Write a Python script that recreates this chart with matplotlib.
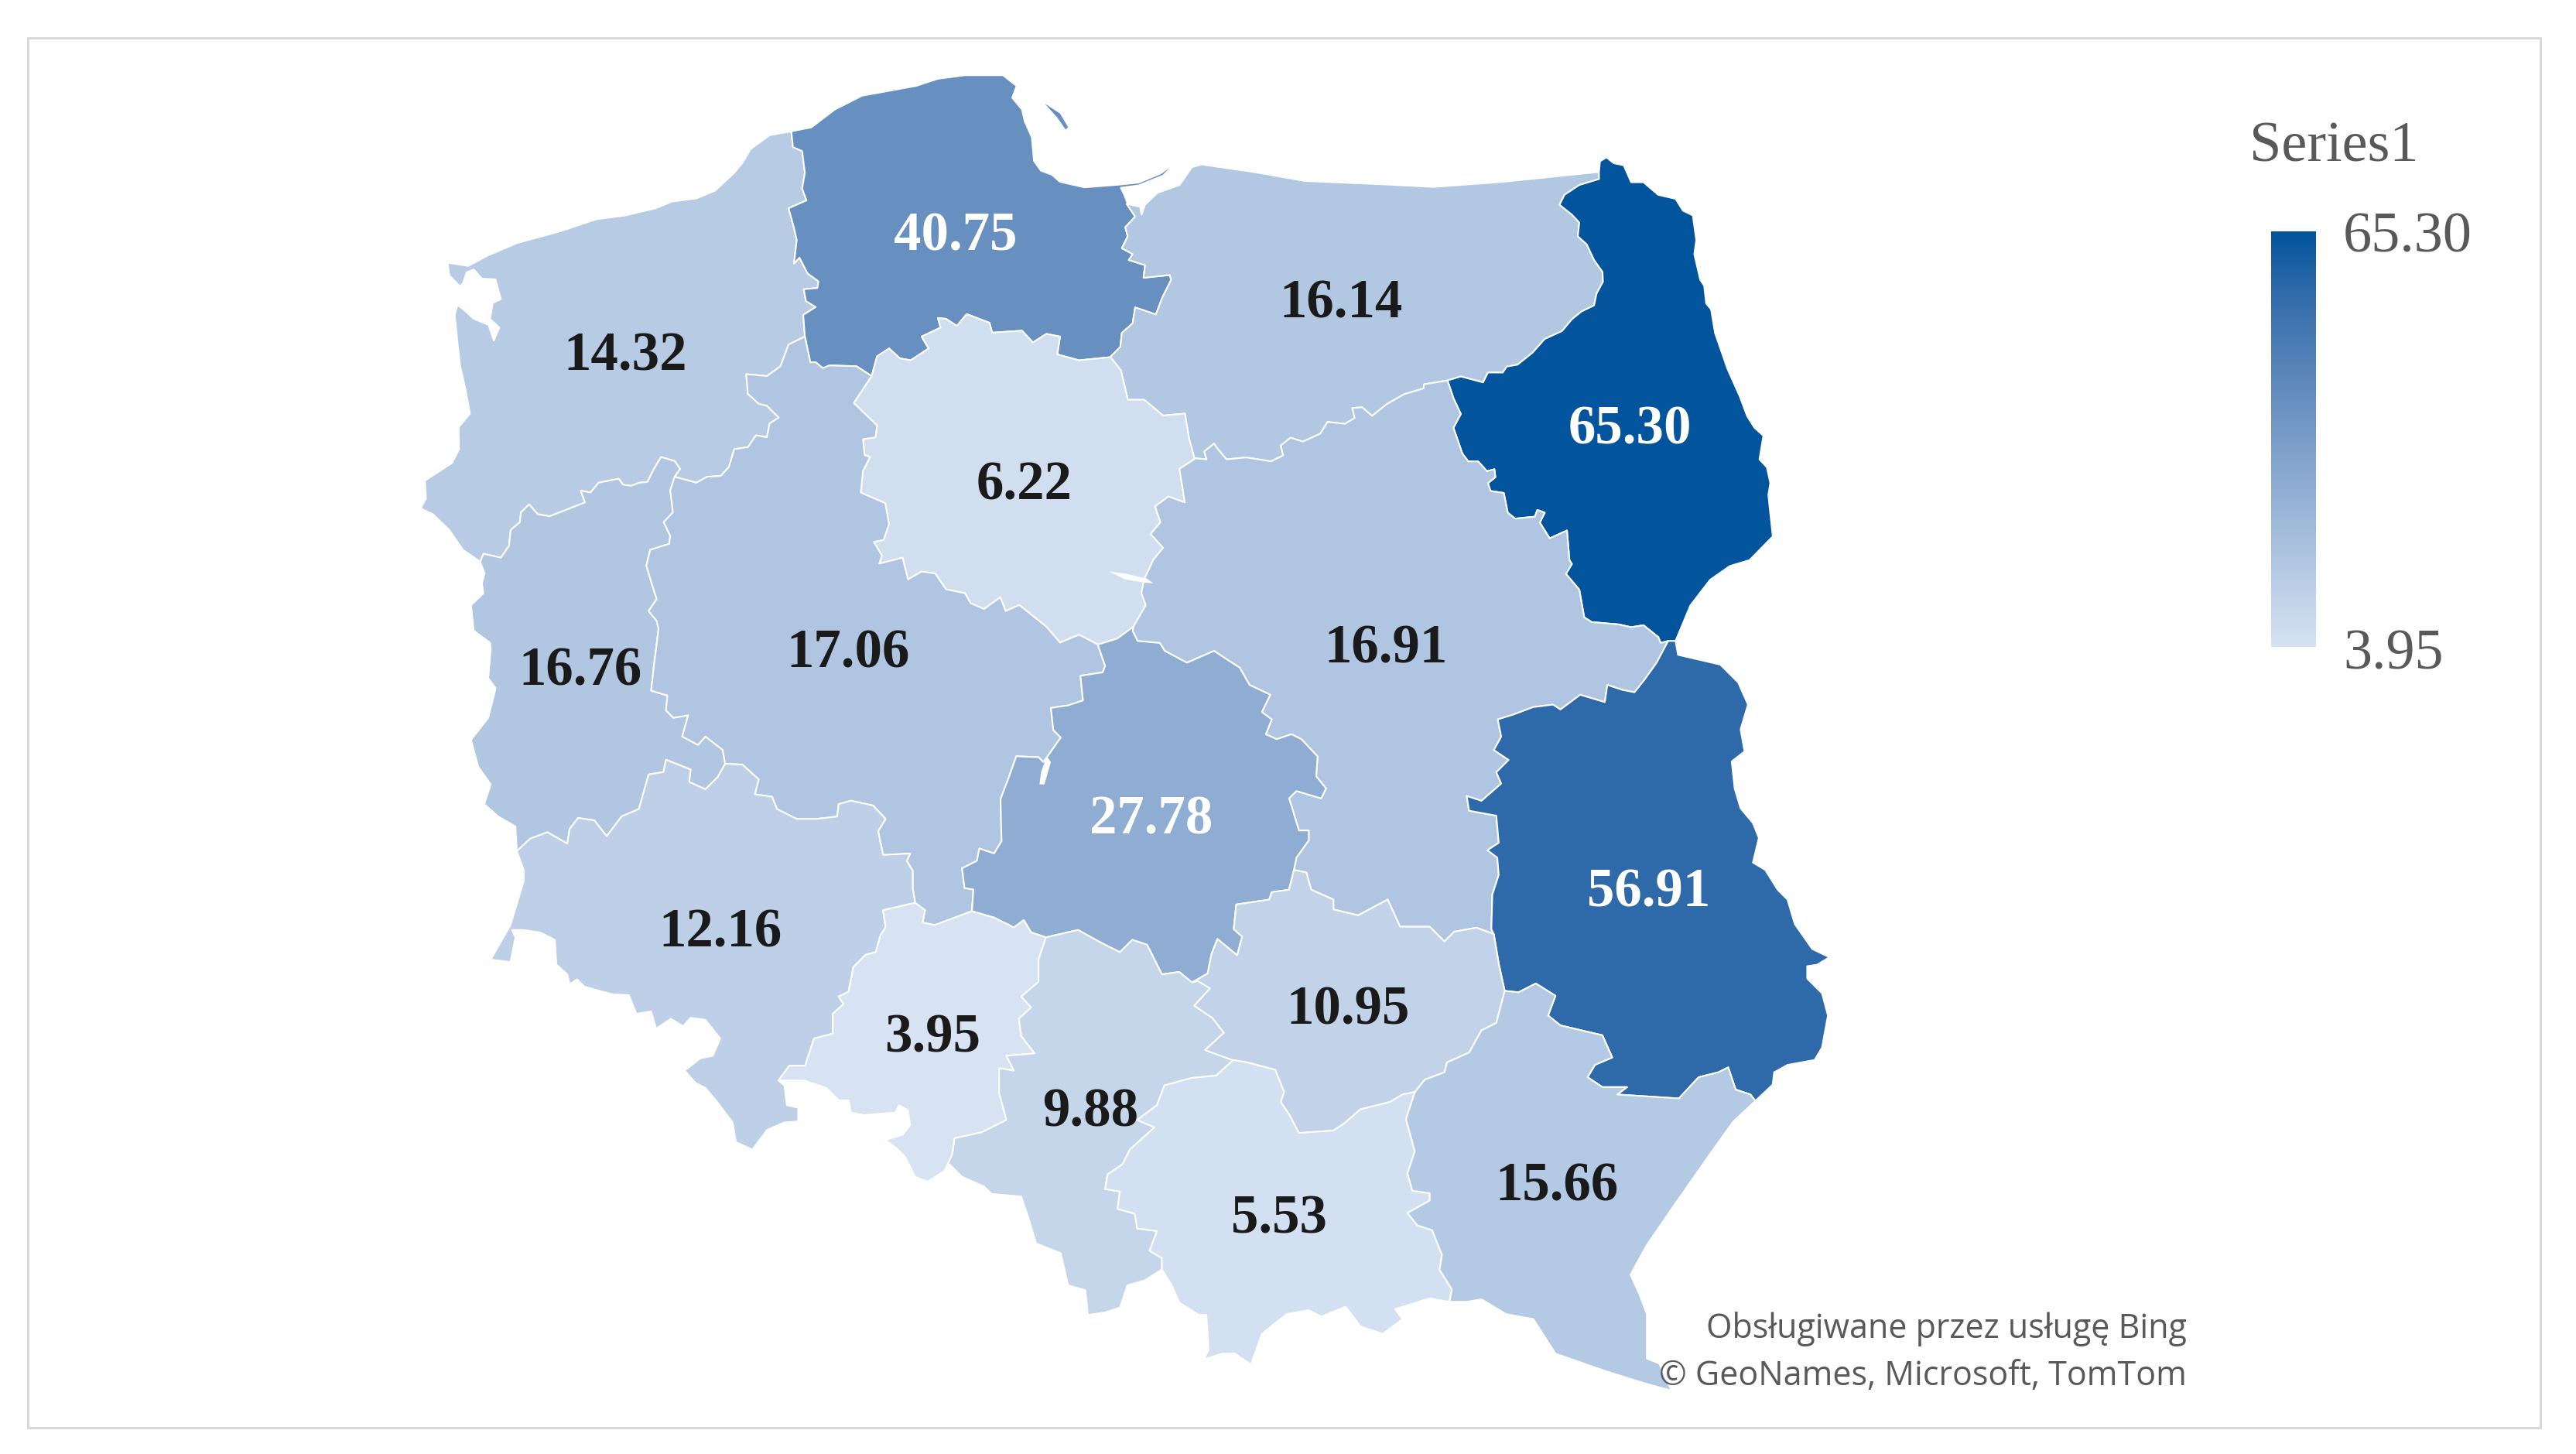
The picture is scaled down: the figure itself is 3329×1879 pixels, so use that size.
import numpy as np
import matplotlib
matplotlib.use("Agg")
import matplotlib.pyplot as plt
from matplotlib.colors import LinearSegmentedColormap, Normalize
from matplotlib.patches import Polygon, Rectangle

W, H = 3329, 1879

regions = ["ZP", "PM", "WM", "PD", "KP", "LB", "WP", "MZ", "LD", "LU", "DS", "OP", "SL", "SK", "MA", "PK"]
values = [14.32, 40.75, 16.14, 65.30, 6.22, 16.76, 17.06, 16.91, 27.78, 56.91, 12.16, 3.95, 9.88, 10.95, 5.53, 15.66]
label_x = [808, 1235, 1733, 2106, 1324, 750, 1096, 1791, 1488, 2131, 931, 1205, 1409, 1742, 1653, 2012]
label_y = [478, 323, 410, 573, 645, 885, 862, 856, 1078, 1172, 1223, 1359, 1456, 1323, 1594, 1552]
legend_title = "Series1"
legend_max = "65.30"
legend_min = "3.95"
credit = ["Obsługiwane przez usługę Bing", "© GeoNames, Microsoft, TomTom"]

color_stops = [(0.0, "#D7E3F3"), (0.6, "#678FC0"), (0.863, "#2E69A9"), (1.0, "#02549D")]


def crop(x0, y0, kx, ky):
    def conv(pts):
        return [(x0 + a / kx, y0 + b / ky) for a, b in pts]
    return conv


z1 = crop(500, 60, 1.4255, 1.96)
z2 = crop(1400, 160, 1.568, 1.96)
z3 = crop(580, 800, 1.568, 1.568)
z4 = crop(1500, 850, 1.568, 1.568)

borders = {
    "coast_zp": z1([(745, 215), (705, 225), (670, 260), (655, 295), (640, 320), (605, 365), (570, 385), (525, 393), (495, 410), (440, 428), (385, 438), (320, 468), (240, 498), (185, 530), (150, 556), (112, 548), (115, 580), (135, 608), (140, 600), (147, 572), (160, 565), (175, 588), (200, 590), (210, 640), (195, 650), (190, 690), (207, 712), (197, 745), (187, 705), (160, 690), (140, 665), (130, 655), (125, 680), (130, 750), (135, 810), (145, 870), (153, 930), (132, 965), (133, 1020), (120, 1055), (70, 1100), (72, 1145), (62, 1170), (85, 1185), (115, 1225), (140, 1275), (172, 1305)]),
    "zp_lb": z1([(172, 1305), (178, 1285), (210, 1295), (225, 1265), (228, 1225), (245, 1205), (247, 1180), (262, 1160), (278, 1185), (300, 1190), (365, 1155), (357, 1125), (375, 1130), (390, 1105), (427, 1095), (435, 1110), (450, 1113), (465, 1105), (480, 1103), (490, 1075), (505, 1040), (530, 1050), (540, 1070), (530, 1090)]),
    "zp_wp": z1([(530, 1090), (570, 1105), (590, 1090), (615, 1088), (630, 1065), (640, 1020), (665, 1015), (680, 985), (700, 990), (705, 955), (722, 940), (700, 910), (685, 905), (665, 880), (662, 830), (700, 835), (725, 810), (740, 755), (770, 735)]),
    "zp_pm": z1([(745, 215), (748, 255), (765, 265), (770, 320), (765, 360), (773, 390), (740, 410), (750, 460), (755, 490), (750, 550), (760, 535), (775, 575), (795, 595), (793, 612), (768, 615), (772, 645), (790, 660), (767, 680), (770, 735)]),
    "coast_pm": z1([(745, 215), (782, 205), (825, 160), (875, 125), (975, 100), (1015, 82), (1065, 73), (1135, 73), (1160, 100), (1152, 130), (1170, 160), (1175, 190), (1188, 230), (1192, 290), (1205, 315), (1225, 325), (1240, 343), (1285, 357), (1350, 350), (1385, 345), (1425, 322), (1455, 293), (1430, 327), (1385, 352), (1352, 358), (1358, 375), (1365, 400)]),
    "pm_wm": z2([(88, 203), (105, 235), (85, 262), (90, 285), (78, 315), (100, 330), (92, 345), (125, 358), (122, 390), (175, 383), (178, 395), (160, 440), (147, 483), (105, 465), (100, 505), (78, 530), (75, 565), (55, 590)]),
    "pm_kp": z1([(1333, 787), (1275, 795), (1235, 780), (1240, 735), (1215, 728), (1190, 750), (1170, 720), (1115, 725), (1110, 700), (1068, 678), (1050, 708), (1030, 690), (1015, 688), (1020, 712), (985, 735), (998, 765), (965, 795), (945, 790), (925, 765), (903, 785), (893, 835)]),
    "pm_wp": z1([(893, 835), (865, 810), (815, 808), (803, 815), (790, 800), (780, 800), (770, 735)]),
    "kp_wp": z1([(893, 835), (860, 903), (903, 960), (900, 990), (877, 995), (880, 1035), (890, 1040), (877, 1075), (873, 1130), (918, 1157), (925, 1210), (915, 1250), (897, 1255), (912, 1290), (907, 1310), (950, 1295), (960, 1350), (985, 1330), (1010, 1335), (1030, 1375), (1065, 1385), (1075, 1410), (1100, 1425), (1130, 1395), (1140, 1430), (1165, 1415), (1215, 1470), (1240, 1510), (1275, 1490), (1310, 1515)]),
    "kp_ld": z1([(1310, 1515), (1345, 1500), (1375, 1470)]),
    "kp_wm": z1([(1333, 787), (1352, 820), (1365, 895), (1395, 895), (1430, 935), (1470, 930), (1478, 995), (1488, 1045)]),
    "kp_mz": z1([(1488, 1045), (1460, 1070), (1470, 1155), (1440, 1140), (1415, 1165), (1425, 1205), (1407, 1235), (1430, 1270), (1412, 1300), (1395, 1350), (1390, 1385), (1398, 1415), (1375, 1470)]),
    "coast_wm": z2([(88, 203), (115, 210), (118, 230), (125, 205), (150, 175), (195, 155), (220, 110), (240, 103), (345, 122), (450, 145), (600, 153), (710, 160), (850, 147), (1045, 122)]),
    "wm_pd": z2([(1045, 122), (1045, 140), (1005, 155), (975, 180), (965, 205), (990, 230), (1005, 250), (1002, 285), (1020, 305), (1035, 345), (1052, 375), (1053, 400), (1040, 430), (1035, 460), (1010, 475), (990, 495), (970, 525), (935, 545), (910, 580), (880, 610), (858, 615), (850, 630), (820, 630), (810, 655), (765, 640), (738, 650)]),
    "wm_mz": z2([(738, 650), (690, 660), (690, 670), (650, 685), (615, 710), (585, 740), (565, 718), (545, 720), (550, 745), (530, 760), (495, 755), (480, 785), (445, 805), (420, 795), (400, 815), (405, 840), (380, 855), (330, 845), (290, 850), (270, 820), (265, 810), (245, 830), (250, 850), (226, 847)]),
    "pd_out": z2([(1045, 122), (1047, 95), (1060, 85), (1075, 100), (1095, 105), (1110, 148), (1135, 148), (1165, 180), (1200, 190), (1215, 220), (1235, 232), (1242, 295), (1238, 330), (1250, 395), (1258, 410), (1262, 455), (1272, 470), (1280, 530), (1305, 620), (1330, 690), (1345, 740), (1360, 770), (1378, 790), (1370, 850), (1385, 870), (1392, 910), (1388, 940), (1397, 1045), (1350, 1105), (1310, 1120), (1270, 1155), (1230, 1220), (1200, 1310)]),
    "pd_lu": z2([(1200, 1310), (1185, 1310)]),
    "pd_mz": z2([(738, 650), (750, 695), (765, 735), (750, 770), (768, 835), (780, 855), (800, 855), (818, 880), (833, 875), (835, 895), (820, 910), (825, 930), (852, 935), (860, 985), (875, 1000), (915, 995), (920, 978), (935, 985), (925, 1010), (945, 1050), (980, 1030), (985, 1105), (990, 1115), (978, 1140), (1005, 1180), (1015, 1250), (1030, 1262), (1085, 1268), (1110, 1275), (1135, 1270), (1165, 1300), (1170, 1315), (1185, 1310)]),
    "lu_mz": z2([(1185, 1310)]) + z4([(1005, 10), (980, 45), (960, 70), (935, 65), (905, 55), (900, 90), (850, 75), (810, 105), (795, 95), (755, 100), (715, 115), (683, 125), (690, 160), (675, 187), (705, 207), (680, 232), (690, 255), (650, 290), (620, 280), (625, 310), (680, 320), (685, 375), (662, 390), (682, 405), (685, 440), (672, 480), (670, 550), (675, 560)]),
    "lu_sk": z4([(675, 560), (685, 620), (697, 675)]),
    "lu_pk": z4([(697, 675), (725, 678), (760, 660), (800, 685), (785, 725), (810, 745), (895, 765), (915, 810), (880, 825), (865, 850), (895, 870), (945, 870), (925, 885), (1050, 893), (1090, 850), (1130, 840), (1150, 830), (1165, 875), (1195, 885), (1205, 898)]),
    "lu_out": z2([(1200, 1310), (1205, 1345)]) + z4([(1134, 14), (1170, 50), (1190, 95), (1175, 145), (1183, 190), (1157, 210), (1163, 265), (1175, 305), (1200, 335), (1212, 365), (1200, 415), (1225, 430), (1250, 470), (1270, 490), (1285, 540), (1320, 590), (1355, 607), (1330, 622), (1310, 625), (1310, 650), (1340, 680), (1352, 725), (1340, 790), (1325, 815), (1270, 825), (1243, 840), (1240, 865), (1205, 898)]),
    "pk_out": z4([(1205, 898), (1160, 940), (1110, 1010), (1040, 1110), (985, 1190), (952, 1250), (970, 1290), (985, 1330), (985, 1380), (985, 1420), (1010, 1430), (1035, 1485), (980, 1470), (900, 1445), (800, 1410), (755, 1340), (700, 1330), (650, 1300), (620, 1305), (585, 1305)]),
    "pk_sk": z4([(697, 675), (680, 740), (650, 755), (625, 800), (580, 820), (575, 840), (535, 855), (515, 880)]),
    "pk_ma": z4([(515, 880), (497, 935), (515, 1000), (500, 1045), (510, 1080), (545, 1085), (545, 1100), (500, 1125), (520, 1150), (550, 1160), (570, 1210), (565, 1240), (590, 1280), (585, 1305)]),
    "sk_ma": z4([(515, 880), (490, 885), (465, 900), (405, 915), (370, 945), (350, 958), (280, 963), (260, 925), (243, 900), (250, 880), (232, 835), (175, 820), (145, 815)]),
    "sk_sl": z4([(145, 815), (90, 795), (128, 760), (105, 730), (68, 705), (100, 670), (75, 655), (65, 657)]),
    "sk_ld": z4([(65, 657), (95, 640), (103, 600), (115, 570), (155, 603), (165, 565), (148, 550), (153, 500), (220, 490), (225, 475), (260, 470), (270, 430)]),
    "sk_mz": z4([(270, 430), (295, 435), (305, 470), (350, 490), (350, 510), (400, 522), (460, 490), (485, 545), (545, 545), (575, 575), (595, 555), (640, 547), (675, 560)]),
    "ld_mz": z4([(270, 430), (275, 405), (300, 370), (300, 350), (280, 350), (265, 300), (260, 285), (275, 270), (325, 285), (335, 265), (315, 240), (318, 200), (285, 165), (265, 155), (235, 165), (213, 155), (225, 125), (205, 110), (222, 75), (180, 55), (160, 20)]) + z2([(295, 1360), (265, 1335), (210, 1365), (195, 1355), (165, 1335), (155, 1315), (110, 1310), (100, 1285)]),
    "ld_wp": z3([(1315, 52), (1330, 95), (1325, 108), (1280, 115), (1285, 165), (1255, 175), (1220, 180), (1225, 225), (1240, 240), (1205, 290), (1195, 280), (1150, 278), (1135, 320), (1118, 365), (1120, 450), (1105, 475), (1075, 465), (1070, 490), (1040, 505), (1045, 545), (1063, 548), (1060, 592)]),
    "op_ld": z3([(1060, 592), (1105, 605), (1145, 625), (1165, 610), (1180, 635), (1210, 645)]),
    "ld_sl": z3([(1210, 645), (1275, 630), (1320, 655), (1360, 675), (1385, 650), (1415, 660), (1445, 720), (1480, 715), (1507, 737)]),
    "wp_op": z3([(1060, 592), (1025, 605), (985, 620), (960, 615), (965, 590), (945, 575)]),
    "wp_ds": z3([(945, 575), (940, 545), (940, 510), (928, 490), (935, 475), (880, 478), (870, 430), (885, 405), (860, 378), (815, 368), (790, 375), (787, 400), (745, 405), (705, 405), (665, 385), (655, 360), (620, 355), (628, 325), (595, 295), (560, 293)]),
    "wp_lb": z3([(560, 293), (555, 265), (520, 238), (505, 255), (473, 238), (485, 195), (455, 200), (440, 185), (443, 155), (410, 145), (415, 100), (425, 20)]) + z1([(497, 1455), (482, 1430), (497, 1400), (490, 1370), (478, 1315), (485, 1275), (520, 1260), (522, 1240), (510, 1205), (527, 1180), (522, 1125), (530, 1090)]),
    "lb_out": z1([(172, 1305), (180, 1335), (175, 1360), (178, 1385), (155, 1415), (160, 1480), (190, 1510)]) + z3([(85, 60), (80, 120), (95, 140), (80, 200), (45, 245), (60, 300), (85, 335), (72, 375), (100, 400), (135, 420), (138, 470)]),
    "lb_ds": z3([(138, 470), (165, 445), (200, 432), (240, 455), (245, 425), (262, 403), (295, 408), (320, 440), (350, 400), (385, 385), (405, 315), (435, 310), (440, 285), (490, 305), (487, 330), (520, 345), (545, 320), (560, 293)]),
    "ds_out": z3([(138, 470), (152, 510), (152, 530), (140, 570), (125, 620), (85, 690), (125, 695), (135, 645), (128, 630), (150, 630), (185, 635), (215, 650), (218, 700), (240, 720), (245, 740), (260, 730), (275, 745), (330, 760), (365, 762), (380, 800), (410, 795), (420, 830), (450, 810), (475, 825), (490, 808), (520, 812), (550, 850), (535, 885), (510, 890), (478, 915), (500, 940), (520, 950), (545, 980), (575, 1020), (582, 1060), (615, 1075), (645, 1035), (680, 1020), (708, 1018), (708, 990), (685, 985), (680, 945), (668, 935)]),
    "ds_op": z3([(668, 935), (690, 905), (722, 905), (740, 850), (778, 840), (778, 800), (800, 780), (790, 765), (810, 755), (820, 705), (845, 680), (865, 675), (875, 640), (885, 625), (880, 590), (945, 575)]),
    "op_out": z3([(668, 935), (720, 935), (765, 950), (790, 975), (810, 975), (815, 1000), (840, 1005), (905, 1000), (912, 985), (930, 995), (935, 1025), (920, 1045), (885, 1055), (910, 1075), (925, 1090), (945, 1130), (970, 1140), (1005, 1118)]),
    "op_sl": z3([(1210, 645), (1195, 690), (1195, 735), (1160, 765), (1180, 787), (1155, 810), (1160, 845), (1187, 880), (1130, 885), (1145, 915), (1115, 910), (1115, 960), (1130, 1015), (1080, 1040), (1025, 1052), (1020, 1085), (1005, 1118)]),
    "sl_ma": z3([(1588, 895), (1555, 925), (1505, 930), (1450, 945), (1435, 985), (1395, 1015), (1430, 1030), (1380, 1075), (1365, 1105), (1335, 1125), (1330, 1155), (1360, 1160), (1355, 1195), (1390, 1205), (1395, 1235), (1435, 1240), (1420, 1280), (1445, 1295), (1445, 1318)]),
    "sl_out": z3([(1005, 1118), (1015, 1105), (1040, 1130), (1085, 1150), (1100, 1165), (1160, 1170), (1175, 1215), (1190, 1265), (1240, 1285), (1255, 1350), (1290, 1360), (1295, 1410), (1330, 1405), (1360, 1395), (1375, 1350), (1410, 1340), (1445, 1318)]),
    "ma_out": z3([(1445, 1318), (1465, 1350), (1480, 1385), (1520, 1410), (1535, 1410), (1540, 1480), (1530, 1500)]) + z4([(125, 1410), (150, 1410), (183, 1432), (205, 1370), (255, 1330), (300, 1322), (325, 1335), (375, 1315), (405, 1355), (450, 1370), (490, 1340), (475, 1320), (545, 1298), (585, 1305)]),
}

# walk order of the borders round each region, "-" means walk it backwards
outlines = {
    "ZP": ["coast_zp", "zp_lb", "zp_wp", "-zp_pm"],
    "PM": ["coast_pm", "pm_wm", "pm_kp", "pm_wp", "-zp_pm"],
    "WM": ["coast_wm", "wm_pd", "wm_mz", "-kp_wm", "-pm_wm"],
    "PD": ["pd_out", "pd_lu", "-pd_mz", "-wm_pd"],
    "KP": ["kp_wm", "kp_mz", "-kp_ld", "-kp_wp", "-pm_kp"],
    "LB": ["zp_lb", "-wp_lb", "-lb_ds", "-lb_out"],
    "WP": ["zp_wp", "-pm_wp", "kp_wp", "ld_wp", "wp_op", "wp_ds", "wp_lb"],
    "MZ": ["wm_mz", "kp_mz", "-ld_mz", "sk_mz", "-lu_mz", "-pd_mz"],
    "LD": ["kp_ld", "-ld_mz", "-sk_ld", "-ld_sl", "-op_ld", "-ld_wp"],
    "LU": ["lu_out", "-lu_pk", "-lu_sk", "-lu_mz", "-pd_lu"],
    "DS": ["lb_ds", "-wp_ds", "-ds_op", "-ds_out"],
    "OP": ["ds_op", "-wp_op", "op_ld", "op_sl", "-op_out"],
    "SL": ["ld_sl", "-sk_sl", "sl_ma", "-sl_out", "-op_sl"],
    "SK": ["sk_mz", "lu_sk", "pk_sk", "sk_ma", "sk_sl", "sk_ld"],
    "MA": ["-sk_ma", "pk_ma", "-ma_out", "-sl_ma"],
    "PK": ["lu_pk", "pk_out", "-pk_ma", "-pk_sk"],
}

hel_peninsula = z1([(1212, 145), (1240, 170), (1255, 205), (1250, 210), (1235, 180)])
lake_kp = z1([(1330, 1330), (1360, 1335), (1400, 1348), (1412, 1360), (1395, 1358), (1360, 1350)])
lake_ld = z3([(1212, 278), (1220, 290), (1207, 335), (1197, 335), (1200, 310)])


def walk(names):
    pts = []
    for name in names:
        if name.startswith("-"):
            pts += borders[name[1:]][::-1]
        else:
            pts += borders[name]
    return pts


plt.rcParams["font.family"] = ["Liberation Serif", "DejaVu Serif"]

fig = plt.figure(figsize=(W / 100, H / 100), dpi=100)
ax = fig.add_axes([0, 0, 1, 1])

cmap = LinearSegmentedColormap.from_list("blues", color_stops)
norm = Normalize(min(values), max(values))

ax.add_patch(Rectangle((36, 49), 3247, 1796, fc="white", ec="#D9D9D9", lw=2.2, zorder=0))

for name, val in zip(regions, values):
    ax.add_patch(Polygon(walk(outlines[name]), closed=True, fc=cmap(norm(val)), ec="white", lw=1.5, joinstyle="round", zorder=2))

ax.add_patch(Polygon(hel_peninsula, closed=True, fc=cmap(norm(values[1])), ec="none", zorder=2))
ax.add_patch(Polygon(lake_kp, closed=True, fc="white", ec="none", zorder=3))
ax.add_patch(Polygon(lake_ld, closed=True, fc="white", ec="none", zorder=3))

for x, y, val in zip(label_x, label_y, values):
    col = "white" if val > 25 else "#1A1A1A"
    ax.text(x, y, f"{val:.2f}", ha="center", va="baseline", fontsize=51, fontweight="bold", color=col, zorder=4)

# legend
grad = np.linspace(1, 0, 256).reshape(-1, 1)
ax.imshow(grad, cmap=cmap, vmin=0, vmax=1, extent=(2935, 2993, 836, 299), aspect="auto", zorder=2)
ax.text(2907, 208, legend_title, fontsize=53.5, color="#595959", va="baseline")
ax.text(3028, 325, legend_max, fontsize=53.5, color="#595959", va="baseline")
ax.text(3028, 864, legend_min, fontsize=53.5, color="#595959", va="baseline")

ax.text(2826, 1729, credit[0], fontsize=31, color="#595959", ha="right", va="baseline", family=["Open Sans", "DejaVu Sans"], zorder=5)
ax.text(2826, 1790, credit[1], fontsize=31, color="#595959", ha="right", va="baseline", family=["Open Sans", "DejaVu Sans"], zorder=5)

ax.set_xlim(0, W)
ax.set_ylim(H, 0)
ax.axis("off")

fig.savefig("out.png", dpi=100, facecolor="white")
